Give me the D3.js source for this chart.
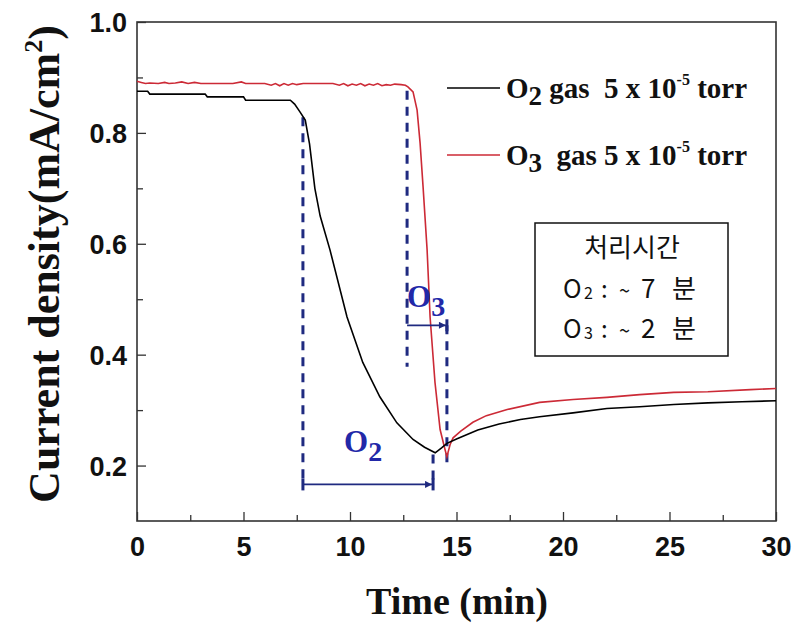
<!DOCTYPE html>
<html><head><meta charset="utf-8">
<script src="https://cdn.jsdelivr.net/npm/d3@7"></script>
<style>body{margin:0;background:#fff}svg{display:block}</style>
</head><body>
<svg id="c" width="795" height="630"></svg>
<script>
// ---- data ----
const o2Time = [0,0.5,0.6,3.2,3.3,5.0,5.1,7.2,7.4,7.65,7.9,8.1,8.35,8.6,9.06,9.86,10.6,11.4,12.2,12.96,13.5,14.0,14.3,14.55,15.0,15.5,16.0,17.0,18.0,18.9,20.47,22.06,23.6,25.2,26.8,28.4,30];
const o2Val  = [0.875,0.875,0.870,0.870,0.865,0.865,0.859,0.859,0.852,0.838,0.823,0.78,0.70,0.65,0.589,0.468,0.386,0.324,0.277,0.247,0.233,0.223,0.232,0.240,0.248,0.256,0.264,0.275,0.283,0.288,0.295,0.303,0.306,0.31,0.313,0.315,0.317];
const o3Time = [0,0.2,0.4,0.6,1.0,1.3,1.5,1.8,2.1,2.4,2.7,3.0,3.5,4.0,4.5,4.9,5.1,5.5,6.0,6.3,6.5,6.7,6.9,7.1,7.3,7.5,7.8,8.2,8.7,9.2,9.5,9.7,9.9,10.1,10.3,10.5,10.7,10.9,11.1,11.3,11.5,11.7,11.9,12.1,12.4,12.6,12.72,12.96,13.15,13.29,13.43,13.62,13.76,13.99,14.23,14.46,14.55,14.7,14.84,15.2,15.77,16.4,17.38,18.9,20.47,22.06,23.6,25.2,26.8,28.8,30];
const o3Val  = [0.893,0.891,0.889,0.890,0.889,0.891,0.889,0.890,0.892,0.889,0.891,0.889,0.889,0.889,0.889,0.892,0.889,0.889,0.889,0.886,0.889,0.885,0.889,0.886,0.889,0.887,0.889,0.889,0.889,0.889,0.886,0.889,0.885,0.888,0.886,0.889,0.885,0.888,0.886,0.889,0.885,0.887,0.886,0.888,0.887,0.886,0.883,0.874,0.841,0.782,0.703,0.589,0.468,0.35,0.265,0.229,0.216,0.238,0.250,0.262,0.278,0.290,0.301,0.314,0.319,0.323,0.328,0.332,0.333,0.337,0.339];
const xTicks = [0,5,10,15,20,25,30];
const xMinor = [2.5,7.5,12.5,17.5,22.5,27.5];
const yTicks = [0.2,0.4,0.6,0.8,1.0];
const yMinor = [0.3,0.5,0.7,0.9];
// annotation intervals: [start, end] time, arrow level, dashed extents
const o2Interval = {start:7.79, end:13.9, level:0.166, startTop:0.828, endTop:0.22};
const o3Interval = {start:12.68, end:14.55, level:0.453, startTop:0.876, startBottom:0.378, endBottom:0.20};

const svg = d3.select("#c");
const x = d3.scaleLinear().domain([0,30]).range([137,776]);
const y = d3.scaleLinear().domain([0.1,1.0]).range([521,22]);
const serif = "'Liberation Serif', 'Times New Roman', Times, serif";
const sans = "'Liberation Sans', Arial, sans-serif";

const frameCol = "#333";
svg.append("rect").attr("x",x(0)).attr("y",y(1)).attr("width",x(30)-x(0)).attr("height",y(0.1)-y(1))
  .attr("fill","none").attr("stroke",frameCol).attr("stroke-width",1.6);

const xAx = svg.append("g").attr("transform",`translate(0,${y(0.1)})`)
  .call(d3.axisBottom(x).tickValues(xTicks).tickSize(-9).tickPadding(16).tickFormat(d3.format("d")));
xAx.select(".domain").remove();
svg.append("g").attr("transform",`translate(0,${y(0.1)})`)
  .call(d3.axisBottom(x).tickValues(xMinor).tickSize(-6).tickFormat(""))
  .select(".domain").remove();
const yAx = svg.append("g").attr("transform",`translate(${x(0)},0)`)
  .call(d3.axisLeft(y).tickValues(yTicks).tickSize(-9).tickPadding(10).tickFormat(d3.format(".1f")));
yAx.select(".domain").remove();
svg.append("g").attr("transform",`translate(${x(0)},0)`)
  .call(d3.axisLeft(y).tickValues(yMinor).tickSize(-6).tickFormat(""))
  .select(".domain").remove();
svg.selectAll(".tick line").attr("stroke",frameCol).attr("stroke-width",1.3);
svg.selectAll(".tick text").attr("font-family",sans)
  .attr("font-weight","bold").attr("font-size",27).attr("fill","#111");
xAx.selectAll(".tick text").attr("dy","0.71em");
yAx.selectAll(".tick text").attr("dy","0.35em");

// axis titles
svg.append("text").attr("x",457).attr("y",614).attr("text-anchor","middle")
  .attr("font-family",serif).attr("font-weight","bold")
  .attr("font-size",38).attr("fill","#111").text("Time (min)");
const yt = svg.append("g").attr("transform","translate(59,264) rotate(-90)")
  .append("text").attr("text-anchor","middle")
  .style("font-family",serif).style("font-weight","bold")
  .style("font-size","44px").attr("fill","#111");
yt.append("tspan").text("Current density(mA/cm");
yt.append("tspan").style("font-size","26px").attr("dy",-17).text("2");
yt.append("tspan").attr("dy",17).text(")");

// annotation dashes
const blue = "#1f2a80";
const dash = (t, v1, v2) => svg.append("line").attr("x1",x(t)).attr("x2",x(t)).attr("y1",y(v1)).attr("y2",y(v2))
  .attr("stroke",blue).attr("stroke-width",3).attr("stroke-dasharray","9,7");
dash(o2Interval.start, o2Interval.startTop, o2Interval.level);
dash(o2Interval.end, o2Interval.endTop, o2Interval.level);
dash(o3Interval.start, o3Interval.startTop, o3Interval.startBottom);
dash(o3Interval.end, o3Interval.level, o3Interval.endBottom);

// curves
const line = d3.line().x(d=>x(d[0])).y(d=>y(d[1]));
svg.append("path").datum(o3Time.map((t,i)=>[t,o3Val[i]])).attr("d",line)
  .attr("fill","none").attr("stroke","#cc2a36").attr("stroke-width",1.6);
svg.append("path").datum(o2Time.map((t,i)=>[t,o2Val[i]])).attr("d",line)
  .attr("fill","none").attr("stroke","#000").attr("stroke-width",1.6);

// arrows
const defs = svg.append("defs");
defs.append("marker").attr("id","ah").attr("viewBox","0 0 10 10").attr("refX",10).attr("refY",5)
  .attr("markerWidth",9).attr("markerHeight",7).attr("markerUnits","userSpaceOnUse").attr("orient","auto")
  .append("path").attr("d","M0,0L10,5L0,10z").attr("fill",blue);
const arrow = (t1,t2,v) => {
  svg.append("line").attr("x1",x(t1)).attr("x2",x(t2)-1).attr("y1",y(v)).attr("y2",y(v))
    .attr("stroke",blue).attr("stroke-width",1.8).attr("marker-end","url(#ah)");
  svg.append("line").attr("x1",x(t2)).attr("x2",x(t2)).attr("y1",y(v)-6).attr("y2",y(v)+6)
    .attr("stroke",blue).attr("stroke-width",3);
};
arrow(o2Interval.start,o2Interval.end,o2Interval.level);
arrow(o3Interval.start,o3Interval.end,o3Interval.level);
svg.append("line").attr("x1",x(o2Interval.start)).attr("x2",x(o2Interval.start)).attr("y1",y(o2Interval.level)-6).attr("y2",y(o2Interval.level)+6).attr("stroke",blue).attr("stroke-width",3);

// O2 / O3 labels
const blab = (xx, yy, sub) => {
  const t = svg.append("text").attr("x",xx).attr("y",yy).attr("font-family",serif).attr("font-weight","bold")
    .attr("font-size",31).attr("fill","#2228a8");
  t.append("tspan").text("O");
  t.append("tspan").attr("dy",9).attr("font-size",28).text(sub);
};
blab(344, 452, "2");
blab(407, 307, "3");

// legend
const leg = [{col:"#000", y:88, sub:"2", gap:" gas  5 x 10"},
             {col:"#cc2a36", y:155, sub:"3", gap:"  gas 5 x 10"}];
leg.forEach(l=>{
  svg.append("line").attr("x1",447).attr("x2",500).attr("y1",l.y).attr("y2",l.y).attr("stroke",l.col).attr("stroke-width",1.5);
  const t = svg.append("text").attr("x",506).attr("y",l.y+10).attr("font-family",serif).attr("font-weight","bold")
    .attr("font-size",29).attr("fill","#111").style("white-space","pre");
  t.append("tspan").text("O");
  t.append("tspan").attr("dy",7).attr("font-size",27).text(l.sub);
  t.append("tspan").attr("dy",-7).text(l.gap);
  t.append("tspan").attr("dy",-13).attr("font-size",16).text("-5");
  t.append("tspan").attr("dy",13).text(" torr");
});

// info box
svg.append("rect").attr("x",535).attr("y",223).attr("width",193).attr("height",133)
  .attr("fill","#fff").attr("stroke","#111").attr("stroke-width",1.5);
const kf = "'Noto Sans CJK KR', sans-serif";
svg.append("text").attr("x",632).attr("y",257).attr("text-anchor","middle").attr("font-family",kf)
  .attr("font-size",26).attr("fill","#111").text("처리시간");
[["2","7",298],["3","2",338]].forEach(r=>{
  const g = svg.append("g").attr("font-family",kf).attr("fill","#111");
  g.append("text").attr("x",563).attr("y",r[2]).attr("font-size",25).text("O");
  g.append("text").attr("x",584).attr("y",r[2]+1).attr("font-size",16).text(r[0]);
  g.append("text").attr("x",601).attr("y",r[2]).attr("font-size",24).text(":");
  g.append("text").attr("x",619).attr("y",r[2]).attr("font-size",20).text("~");
  g.append("text").attr("x",641).attr("y",r[2]).attr("font-size",26).text(r[1]);
  g.append("text").attr("x",672).attr("y",r[2]).attr("font-size",26).text("분");
});
</script>
</body></html>
